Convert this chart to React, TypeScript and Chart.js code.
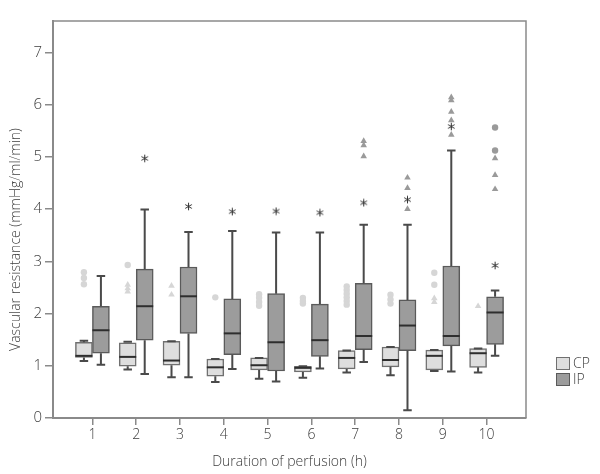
import { useEffect, useRef } from "react";
import { Chart, registerables } from "chart.js";

Chart.register(...registerables);

// ---------- data ----------
const categories = [1, 2, 3, 4, 5, 6, 7, 8, 9, 10];
const yTicks = [0, 1, 2, 3, 4, 5, 6, 7];

// CP (control perfusion) box statistics
const cpLow = [1.09, 0.93, 0.78, 0.69, 0.75, 0.77, 0.87, 0.82, 0.9, 0.87];
const cpQ1 = [1.16, 0.99, 1.01, 0.8, 0.92, 0.88, 0.94, 0.98, 0.92, 0.97];
const cpMedian = [1.19, 1.17, 1.1, 0.97, 1.01, 0.96, 1.15, 1.11, 1.19, 1.24];
const cpQ3 = [1.45, 1.44, 1.47, 1.13, 1.15, 0.99, 1.29, 1.36, 1.3, 1.33];
const cpHigh = [1.48, 1.46, 1.47, 1.13, 1.15, 0.99, 1.29, 1.36, 1.3, 1.33];

// IP box statistics
const ipLow = [1.02, 0.84, 0.78, 0.94, 0.7, 0.95, 1.07, 0.15, 0.89, 1.19];
const ipQ1 = [1.24, 1.49, 1.62, 1.21, 0.9, 1.18, 1.31, 1.29, 1.38, 1.41];
const ipMedian = [1.68, 2.14, 2.33, 1.62, 1.45, 1.49, 1.57, 1.77, 1.57, 2.02];
const ipQ3 = [2.14, 2.85, 2.89, 2.28, 2.38, 2.18, 2.58, 2.26, 2.91, 2.32];
const ipHigh = [2.72, 3.99, 3.56, 3.58, 3.55, 3.55, 3.7, 3.7, 5.12, 2.44];

// outliers: [category, value]
const cpCircleOutliers = [
  [1, 2.79], [1, 2.68], [1, 2.56],
  [2, 2.93],
  [4, 2.31],
  [5, 2.37], [5, 2.3], [5, 2.22], [5, 2.15],
  [6, 2.3], [6, 2.24], [6, 2.19],
  [7, 2.52], [7, 2.45], [7, 2.38], [7, 2.31], [7, 2.24], [7, 2.17],
  [8, 2.36], [8, 2.27], [8, 2.19],
  [9, 2.78], [9, 2.55],
];
const cpTriangleOutliers = [
  [2, 2.55], [2, 2.48], [2, 2.42],
  [3, 2.53], [3, 2.36],
  [9, 2.29], [9, 2.22],
  [10, 2.14],
];
const ipTriangleOutliers = [
  [7, 5.3], [7, 5.22], [7, 5.01],
  [8, 4.6], [8, 4.4], [8, 4.0],
  [9, 6.14], [9, 6.08], [9, 5.86], [9, 5.7], [9, 5.42],
  [10, 4.97], [10, 4.65], [10, 4.38],
];
const ipCircleOutliers = [
  [10, 5.56], [10, 5.12],
];
// extreme values (asterisks)
const ipExtremes = [
  [2, 4.97], [3, 4.05], [4, 3.95], [5, 3.96], [6, 3.93],
  [7, 4.12], [8, 4.18], [9, 5.58], [10, 2.92],
];

const seriesLabels = ["CP", "IP"];

// ---------- styles ----------
const CP_FILL = "#dedede";
const CP_BORDER = "#707070";
const IP_FILL = "#9c9c9c";
const IP_BORDER = "#5a5a5a";
const WHISKER = "#4a4a4a";
const MEDIAN = "#2e2e2e";
const AXIS = "#8a8a8a";
const TEXT = "#3c3c3c";
const FONT = '"Open Sans", "DejaVu Sans", sans-serif';
const FONT_WEIGHT = 300;
const BOX_OFFSET = 0.194;

const boxStats = [
  { low: cpLow, q1: cpQ1, med: cpMedian, q3: cpQ3, high: cpHigh },
  { low: ipLow, q1: ipQ1, med: ipMedian, q3: ipQ3, high: ipHigh },
];

function makeAsterisk() {
  const c = document.createElement("canvas");
  c.width = 9;
  c.height = 9;
  const g = c.getContext("2d")!;
  g.strokeStyle = "#333";
  g.lineWidth = 1;
  g.translate(4.5, 4.5);
  for (let k = 0; k < 3; k++) {
    const a = Math.PI / 2 + (k * Math.PI) / 3;
    g.beginPath();
    g.moveTo(Math.cos(a) * 3.8, Math.sin(a) * 3.8);
    g.lineTo(-Math.cos(a) * 3.8, -Math.sin(a) * 3.8);
    g.stroke();
  }
  return c;
}

const whiskerPlugin = {
  id: "whiskers",
  afterDatasetsDraw(chart: any) {
    const ctx = chart.ctx;
    const y = chart.scales.y;
    ctx.save();
    boxStats.forEach((s, di) => {
      const meta = chart.getDatasetMeta(di);
      meta.data.forEach((el: any, i: number) => {
        const x = el.x;
        const w = el.width;
        const pLow = y.getPixelForValue(s.low[i]);
        const pQ1 = y.getPixelForValue(s.q1[i]);
        const pMed = y.getPixelForValue(s.med[i]);
        const pQ3 = y.getPixelForValue(s.q3[i]);
        const pHigh = y.getPixelForValue(s.high[i]);
        ctx.strokeStyle = WHISKER;
        ctx.lineWidth = 2;
        ctx.beginPath();
        ctx.moveTo(x, pQ3);
        ctx.lineTo(x, pHigh);
        ctx.moveTo(x, pQ1);
        ctx.lineTo(x, pLow);
        ctx.moveTo(x - w / 4, pHigh);
        ctx.lineTo(x + w / 4, pHigh);
        ctx.moveTo(x - w / 4, pLow);
        ctx.lineTo(x + w / 4, pLow);
        ctx.stroke();
        ctx.strokeStyle = MEDIAN;
        ctx.lineWidth = 2;
        ctx.beginPath();
        ctx.moveTo(x - w / 2, pMed);
        ctx.lineTo(x + w / 2, pMed);
        ctx.stroke();
      });
    });
    ctx.restore();
  },
};

const framePlugin = {
  id: "frame",
  afterDraw(chart: any) {
    const { ctx, chartArea } = chart;
    ctx.save();
    ctx.strokeStyle = AXIS;
    ctx.lineWidth = 1.5;
    ctx.beginPath();
    ctx.moveTo(chartArea.left, chartArea.top);
    ctx.lineTo(chartArea.right, chartArea.top);
    ctx.lineTo(chartArea.right, chartArea.bottom);
    ctx.stroke();
    // y axis title
    ctx.translate(16, (chartArea.top + chartArea.bottom) / 2 + 20);
    ctx.rotate(-Math.PI / 2);
    ctx.fillStyle = TEXT;
    ctx.font = `${FONT_WEIGHT} 14px ${FONT}`;
    ctx.textAlign = "center";
    ctx.textBaseline = "middle";
    ctx.fillText("Vascular resistance (mmHg/ml/min)", 0, 0);
    ctx.restore();
  },
};

function toPoints(list: number[][], offset: number) {
  return list.map(([c, v]) => ({ x: c + offset, y: v }));
}

export default function App() {
  const ref = useRef<HTMLCanvasElement>(null);
  useEffect(() => {
    if (!ref.current) return;
    const pointBase = { type: "scatter" as const, pointBorderWidth: 0 };
    const chart = new Chart(ref.current, {
      type: "bar",
      data: {
        datasets: [
          {
            type: "bar",
            label: seriesLabels[0],
            data: categories.map((c, i) => ({ x: c, y: [cpQ1[i], cpQ3[i]] })) as any,
            backgroundColor: CP_FILL,
            borderColor: CP_BORDER,
            borderWidth: 1.5,
            borderSkipped: false,
            barThickness: 17,
          },
          {
            type: "bar",
            label: seriesLabels[1],
            data: categories.map((c, i) => ({ x: c, y: [ipQ1[i], ipQ3[i]] })) as any,
            backgroundColor: IP_FILL,
            borderColor: IP_BORDER,
            borderWidth: 1.5,
            borderSkipped: false,
            barThickness: 17,
          },
          {
            ...pointBase,
            label: "CP outliers",
            data: toPoints(cpCircleOutliers, -BOX_OFFSET),
            pointStyle: "circle",
            pointRadius: 3.2,
            backgroundColor: "#d6d6d6",
            borderColor: "#d6d6d6",
          },
          {
            ...pointBase,
            label: "CP outliers",
            data: toPoints(cpTriangleOutliers, -BOX_OFFSET),
            pointStyle: "triangle",
            pointRadius: 3.8,
            backgroundColor: "#d6d6d6",
            borderColor: "#d6d6d6",
          },
          {
            ...pointBase,
            label: "IP outliers",
            data: toPoints(ipTriangleOutliers, BOX_OFFSET),
            pointStyle: "triangle",
            pointRadius: 3.8,
            backgroundColor: "#9a9a9a",
            borderColor: "#9a9a9a",
          },
          {
            ...pointBase,
            label: "IP outliers",
            data: toPoints(ipCircleOutliers, BOX_OFFSET),
            pointStyle: "circle",
            pointRadius: 3.2,
            backgroundColor: "#9a9a9a",
            borderColor: "#9a9a9a",
          },
          {
            type: "scatter",
            label: "IP extremes",
            data: toPoints(ipExtremes, BOX_OFFSET),
            pointStyle: makeAsterisk(),
            pointRadius: 4,
          },
        ] as any,
      },
      options: {
        animation: false,
        responsive: false,
        events: [],
        layout: { padding: { top: 21, right: 74, left: 0, bottom: 0 } },
        plugins: { legend: { display: false }, tooltip: { enabled: false } },
        scales: {
          x: {
            type: "linear",
            min: 0.1,
            max: 10.9,
            offset: false,
            afterBuildTicks: (s: any) => {
              s.ticks = categories.map((v) => ({ value: v }));
            },
            afterFit: (s: any) => {
              s.height = 56;
            },
            grid: { display: true, offset: false, drawOnChartArea: false, drawTicks: true, tickLength: 7, color: AXIS, lineWidth: 1.5 },
            border: { display: true, color: AXIS, width: 2 },
            ticks: { color: TEXT, font: { family: FONT, size: 14, weight: FONT_WEIGHT }, padding: 2 },
            title: {
              display: true,
              text: "Duration of perfusion (h)",
              color: TEXT,
              font: { family: FONT, size: 14, weight: FONT_WEIGHT },
              padding: { top: 0, bottom: 4 },
            },
          },
          y: {
            min: 0,
            max: 7.6,
            afterBuildTicks: (s: any) => {
              s.ticks = yTicks.map((v) => ({ value: v }));
            },
            afterFit: (s: any) => {
              s.width = 53;
            },
            grid: { display: true, drawOnChartArea: false, drawTicks: true, tickLength: 8, color: AXIS, lineWidth: 1.5 },
            border: { display: true, color: AXIS, width: 2 },
            ticks: { color: TEXT, font: { family: FONT, size: 15, weight: FONT_WEIGHT }, padding: 3 },
          },
        },
      },
      plugins: [whiskerPlugin, framePlugin],
    });
    return () => chart.destroy();
  }, []);

  const legendItem = (label: string, fill: string, border: string) => (
    <div style={{ display: "flex", alignItems: "center", height: 16 }}>
      <span
        style={{
          display: "inline-block",
          width: 12,
          height: 11,
          background: fill,
          border: `1.5px solid ${border}`,
          marginRight: 3,
        }}
      />
      <span style={{ fontFamily: FONT, fontWeight: FONT_WEIGHT, fontSize: 14, color: TEXT, lineHeight: "16px" }}>{label}</span>
    </div>
  );

  return (
    <div style={{ position: "absolute", left: 0, top: 0, width: 600, height: 474, background: "#fff" }}>
      <canvas ref={ref} width={600} height={474} style={{ width: 600, height: 474, display: "block" }} />
      <div style={{ position: "absolute", left: 556, top: 355 }}>
        {legendItem(seriesLabels[0], CP_FILL, CP_BORDER)}
        {legendItem(seriesLabels[1], IP_FILL, IP_BORDER)}
      </div>
    </div>
  );
}
